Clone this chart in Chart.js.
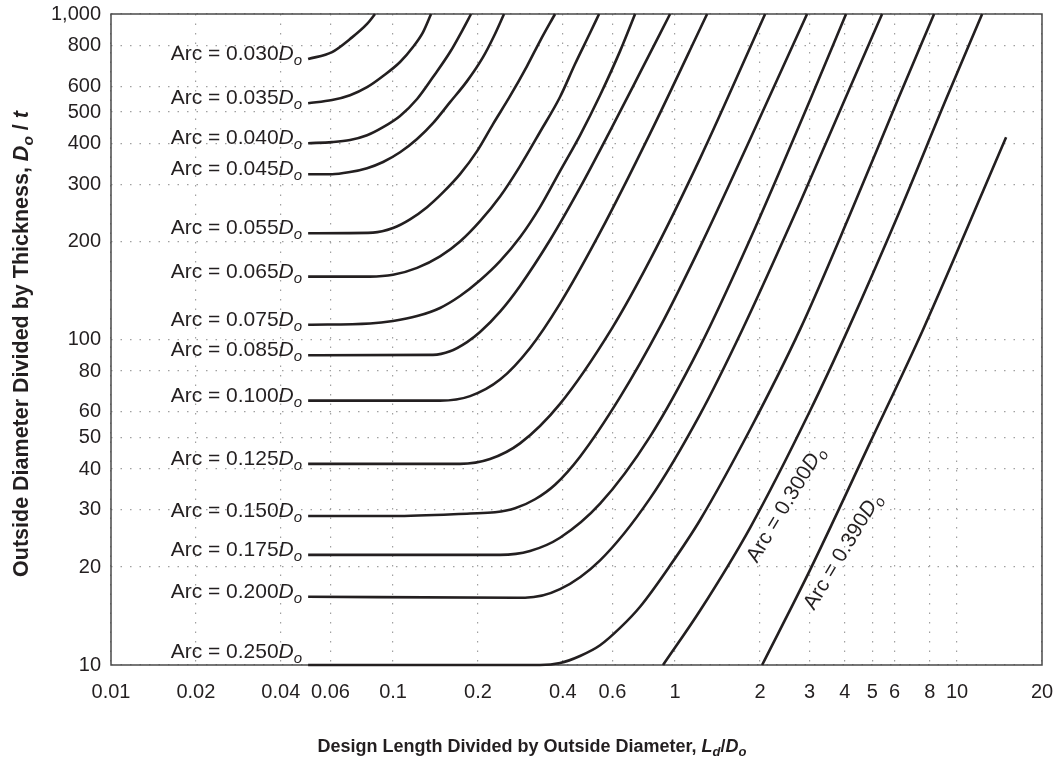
<!DOCTYPE html>
<html>
<head>
<meta charset="utf-8">
<script src="https://cdn.jsdelivr.net/npm/chart.js@4.4.1/dist/chart.umd.min.js"></script>
<style>
  html, body { margin: 0; padding: 0; background: #fff; }
</style>
</head>
<body>
<canvas id="arcChart" width="1056" height="762"></canvas>
<script>
// tick values for both log axes
const xTicks = [0.01, 0.02, 0.04, 0.06, 0.1, 0.2, 0.4, 0.6, 1, 2, 3, 4, 5, 6, 8, 10, 20];
const yTicks = [10, 20, 30, 40, 50, 60, 80, 100, 200, 300, 400, 500, 600, 800, 1000];

// one pair of arrays per curve: Ld/Do (x) and Do/t (y)
const x030 = [0.050, 0.0608, 0.0704, 0.0809, 0.0863];
const y030 = [727, 764, 838, 932, 1000];
const x035 = [0.050, 0.0608, 0.0704, 0.0809, 0.0922, 0.1059, 0.1177, 0.1278, 0.1364];
const y035 = [532, 544, 563, 596, 645, 712, 792, 880, 1000];
const x040 = [0.050, 0.0608, 0.0704, 0.0809, 0.0922, 0.1059, 0.1217, 0.1386, 0.1593, 0.1771, 0.1891];
const y040 = [401, 404, 410, 424, 449, 486, 548, 640, 764, 899, 1000];
const x045 = [0.050, 0.0608, 0.0704, 0.0809, 0.0922, 0.1059, 0.1217, 0.1386, 0.1593, 0.1830, 0.2085, 0.2281, 0.2475];
const y045 = [322, 322, 327, 336, 351, 376, 413, 462, 536, 622, 737, 856, 1000];
const x055 = [0.050, 0.0849, 0.1000, 0.1149, 0.1320, 0.1504, 0.1728, 0.1986, 0.2262, 0.2599, 0.2986, 0.3320, 0.3753];
const y055 = [212, 213, 220, 234, 255, 283, 322, 379, 459, 559, 692, 826, 1000];
const x065 = [0.050, 0.0829, 0.1000, 0.1217, 0.1468, 0.1728, 0.2035, 0.2396, 0.2820, 0.3320, 0.3909, 0.4419, 0.4994, 0.5377];
const y065 = [156, 156, 158, 166, 180, 200, 231, 275, 341, 434, 556, 702, 874, 1000];
const x075 = [0.050, 0.0829, 0.1000, 0.1217, 0.1468, 0.1728, 0.2035, 0.2396, 0.2820, 0.3320, 0.3909, 0.4603, 0.5421, 0.6382, 0.7215];
const y075 = [111, 112, 114, 118, 125, 136, 152, 174, 206, 255, 329, 424, 563, 769, 1000];
const x085 = [0.050, 0.1386, 0.1593, 0.1830, 0.2035, 0.2396, 0.2820, 0.3603, 0.4603, 0.5884, 0.7515, 0.9600];
const y085 = [89.5, 89.7, 92.0, 98.2, 105.4, 121.8, 146.1, 202.1, 292.7, 437.5, 660.3, 1000];
const x100 = [0.050, 0.1468, 0.1876, 0.2396, 0.3060, 0.3909, 0.5421, 0.8153, 1.299];
const y100 = [64.9, 64.9, 67.0, 75.3, 94.2, 128.9, 213.2, 428.9, 1000];
const x125 = [0.050, 0.1728, 0.2208, 0.2820, 0.3909, 0.5980, 0.8153, 1.2266, 2.086];
const y125 = [41.5, 41.5, 42.95, 47.97, 63.45, 108.4, 175.6, 360.1, 1000];
const x150 = [0.050, 0.1000, 0.1876, 0.2300, 0.2708, 0.3188, 0.3753, 0.4603, 0.6382, 0.8847, 1.2266, 1.845, 2.938];
const y150 = [28.7, 28.7, 29.2, 29.45, 30.3, 32.3, 35.8, 43.65, 66.5, 109.3, 192.6, 412.5, 1000];
const x175 = [0.050, 0.2396, 0.3060, 0.3909, 0.5421, 0.8153, 1.2266, 1.845, 3.011, 4.039];
const y175 = [21.8, 21.8, 22.4, 24.6, 31.3, 50.3, 95.2, 203.1, 544.1, 1000];
const x200 = [0.050, 0.2752, 0.2938, 0.3909, 0.5421, 0.8153, 1.2266, 1.728, 2.775, 4.006, 5.421];
const y200 = [16.2, 16.1, 16.1, 17.1, 20.97, 32.5, 58.9, 106.8, 263.6, 548.0, 1000];
const x250 = [0.050, 0.3320, 0.3909, 0.4603, 0.5421, 0.6382, 0.7515, 0.9600, 1.2266, 1.845, 2.775, 4.173, 6.178, 8.288];
const y250 = [10, 10, 10.14, 10.66, 11.5, 13.0, 15.1, 20.2, 27.9, 52.9, 107.4, 242.4, 547.7, 1000];
const x300 = [0.9066, 1.2266, 1.845, 3.011, 4.105, 6.280, 9.143, 12.27];
const y300 = [10, 14.7, 26.4, 60.4, 107.4, 249.5, 547.7, 1000];
const x390 = [2.035, 3.011, 4.913, 7.577, 14.92];
const y390 = [10, 19.6, 48.2, 107.4, 418.4];

const arcNames = ["0.030", "0.035", "0.040", "0.045", "0.055", "0.065", "0.075", "0.085",
  "0.100", "0.125", "0.150", "0.175", "0.200", "0.250", "0.300", "0.390"];
const curveX = [x030, x035, x040, x045, x055, x065, x075, x085, x100, x125, x150, x175, x200, x250, x300, x390];
const curveY = [y030, y035, y040, y045, y055, y065, y075, y085, y100, y125, y150, y175, y200, y250, y300, y390];

const FONT = '"Liberation Sans", Arial, Helvetica, sans-serif';
const INK = "#231f20";

// text made of runs with their own font and vertical shift
function runsWidth(ctx, runs) {
  let w = 0;
  runs.forEach((r) => { ctx.font = r.f; w += ctx.measureText(r.t).width; });
  return w;
}
function drawRuns(ctx, runs, x, y) {
  runs.forEach((r) => {
    ctx.font = r.f;
    ctx.fillText(r.t, x, y + (r.dy || 0));
    x += ctx.measureText(r.t).width;
  });
}
function arcRuns(name) {
  return [
    { t: "Arc = " + name, f: `21px ${FONT}` },
    { t: "D", f: `italic 21px ${FONT}` },
    { t: "o", f: `italic 15px ${FONT}`, dy: 5 },
  ];
}

const arcLabels = {
  id: "arcLabels",
  beforeDatasetsDraw(chart) {
    const { ctx, chartArea: a } = chart;
    ctx.save();
    ctx.strokeStyle = "#4a4a4a";
    ctx.lineWidth = 1.5;
    ctx.strokeRect(a.left, a.top, a.right - a.left, a.bottom - a.top);
    ctx.restore();
  },
  afterDatasetsDraw(chart) {
    const { ctx, chartArea: a } = chart;
    const xs = chart.scales.x, ys = chart.scales.y;
    ctx.save();
    ctx.fillStyle = INK;
    ctx.textBaseline = "alphabetic";
    ctx.textAlign = "left";
    // horizontal labels left of each curve start
    for (let i = 0; i < 14; i++) {
      const p = chart.getDatasetMeta(i).data[0];
      const runs = arcRuns(arcNames[i]);
      const w = runsWidth(ctx, runs);
      const base = Math.min(p.y + 1, a.bottom - 7);
      drawRuns(ctx, runs, p.x - 6 - w, base);
    }
    // rotated labels beside the two last curves
    [[14, 1.953, 20.45], [15, 3.111, 14.66]].forEach(([i, lx, ly]) => {
      ctx.save();
      ctx.translate(xs.getPixelForValue(lx), ys.getPixelForValue(ly));
      ctx.rotate(-59 * Math.PI / 180);
      drawRuns(ctx, arcRuns(arcNames[i]), 0, 0);
      ctx.restore();
    });
    ctx.restore();
  },
  afterDraw(chart) {
    const { ctx } = chart;
    ctx.save();
    ctx.fillStyle = INK;
    ctx.textBaseline = "alphabetic";
    const b = `bold 18px ${FONT}`, bi = `bold italic 18px ${FONT}`, bs = `bold italic 13px ${FONT}`;
    const xTitle = [
      { t: "Design Length Divided by Outside Diameter, ", f: b },
      { t: "L", f: bi }, { t: "d", f: bs, dy: 4 },
      { t: "/", f: b },
      { t: "D", f: bi }, { t: "o", f: bs, dy: 4 },
    ];
    drawRuns(ctx, xTitle, 532 - runsWidth(ctx, xTitle) / 2, 752);
    const yb = `bold 21.5px ${FONT}`, ybi = `bold italic 21.5px ${FONT}`, ybs = `bold italic 15.5px ${FONT}`;
    const yTitle = [
      { t: "Outside Diameter Divided by Thickness, ", f: yb },
      { t: "D", f: ybi }, { t: "o", f: ybs, dy: 5 },
      { t: " /", f: yb }, { t: " t", f: ybi },
    ];
    ctx.translate(20, 344);
    ctx.rotate(-Math.PI / 2);
    drawRuns(ctx, yTitle, -runsWidth(ctx, yTitle) / 2, 8);
    ctx.restore();
  },
};

const datasets = curveX.map((xs, i) => ({
  label: "Arc = " + arcNames[i] + "Do",
  data: xs.map((x, j) => ({ x: x, y: curveY[i][j] })),
  borderColor: INK,
  borderWidth: 2.6,
  pointRadius: 0,
  fill: false,
  cubicInterpolationMode: "monotone",
  clip: 4,
}));

const gridStyle = { color: "#a0a0a0", lineWidth: 1.2, drawTicks: false };
// chart area is fixed by the layout padding, not by label overflow
const noPad = (s) => { s.paddingLeft = 0; s.paddingRight = 0; s.paddingTop = 0; s.paddingBottom = 0; };

new Chart(document.getElementById("arcChart"), {
  type: "line",
  data: { datasets: datasets },
  options: {
    responsive: false,
    animation: false,
    layout: { padding: { top: 14, right: 14, left: 0, bottom: 0 } },
    plugins: { legend: { display: false }, tooltip: { enabled: false } },
    scales: {
      x: {
        type: "logarithmic",
        min: 0.01,
        max: 20,
        afterBuildTicks: (s) => { s.ticks = xTicks.map((v) => ({ value: v })); },
        afterFit: (s) => { s.height = 97; noPad(s); },
        ticks: {
          autoSkip: false,
          maxRotation: 0,
          padding: 15,
          color: INK,
          font: { family: FONT, size: 20 },
          callback: (v) => String(v),
        },
        grid: gridStyle,
        border: { display: false, dash: [1.5, 8] },
      },
      y: {
        type: "logarithmic",
        min: 10,
        max: 1000,
        afterBuildTicks: (s) => { s.ticks = yTicks.map((v) => ({ value: v })); },
        afterFit: (s) => { s.width = 111; noPad(s); },
        ticks: {
          autoSkip: false,
          padding: 10,
          color: INK,
          font: { family: FONT, size: 20 },
          callback: (v) => Number(v).toLocaleString("en-US"),
        },
        grid: gridStyle,
        border: { display: false, dash: [1.5, 8] },
      },
    },
  },
  plugins: [arcLabels],
});
</script>
</body>
</html>
